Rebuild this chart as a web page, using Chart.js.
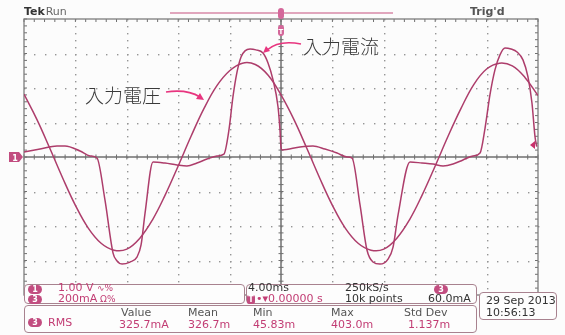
<!DOCTYPE html>
<html>
<head>
<meta charset="utf-8">
<script src="https://cdn.jsdelivr.net/npm/chart.js@4/dist/chart.umd.min.js"></script>
<style>
  html, body { margin: 0; padding: 0; background: #fcfcfc; }
  #scope { position: relative; width: 565px; height: 335px; overflow: hidden; background: #fcfcfc;
           font-family: "DejaVu Sans", sans-serif; }
  #scope canvas, #scope svg { position: absolute; left: 0; top: 0; }
  .t { position: absolute; white-space: nowrap; font-size: 11px; line-height: 12px; }
  .pink { color: #c23d74; }
  .gray { color: #555; }
  .dark { color: #333; }
  .panel { position: absolute; border: 1.5px solid #a8828f; border-radius: 4px; background: #fdfdfd; box-sizing: border-box; }
  .badge { position: absolute; width: 14px; height: 9px; border-radius: 5px; background: #c24d80;
           color: #fff; font-size: 8px; line-height: 9px; text-align: center; font-weight: bold; }
  .note { position: absolute; white-space: nowrap; font-family: "Noto Sans CJK JP", sans-serif;
          font-size: 19px; line-height: 22px; color: #3a3a3a; font-weight: 300; }
</style>
</head>
<body>
<div id="scope">
  <canvas id="c" width="565" height="335"></canvas>
  <svg id="ov" width="565" height="335" viewBox="0 0 565 335">
    <!-- trigger position bar -->
    <line x1="170" y1="13" x2="393" y2="13" stroke="#d98aa8" stroke-width="1.6"/>
    <rect x="278" y="8" width="6" height="11" rx="3" fill="#d4679a"/>
    <rect x="278" y="25" width="6" height="11" rx="3" fill="#d4679a"/>
    <text x="281" y="34" font-family="DejaVu Sans" font-size="7" font-weight="bold" fill="#fff" text-anchor="middle">T</text>
    <!-- ch1 ground marker -->
    <path d="M9,152 H19 L23,157 L19,162 H9 Z" fill="#c24d80"/>
    <text x="15" y="160.5" font-family="DejaVu Sans" font-size="8" font-weight="bold" fill="#fff" text-anchor="middle">1</text>
    <!-- trigger level marker -->
    <path d="M530,145 L535,141 L535,149 Z" fill="#c8306a"/>
    <!-- annotation arrows -->
    <path d="M301,44 C286,41 274,44 267,50" fill="none" stroke="#e8357f" stroke-width="1.6"/>
    <path d="M263,53 L266,46 L270,51 Z" fill="#e8357f"/>
    <path d="M166,92 C180,90 192,92 200,97" fill="none" stroke="#e8357f" stroke-width="1.6"/>
    <path d="M204,100 L196,99 L200,93 Z" fill="#e8357f"/>
    <!-- falling edge trigger glyph -->
    <polyline points="457,286 462,286 465,292" fill="none" stroke="#333" stroke-width="1.4"/>
  </svg>

  <div class="t" style="left:24px;top:6px;font-weight:bold;color:#333;">Tek <span style="font-weight:normal;color:#666;margin-left:-3px">Run</span></div>
  <div class="t" style="left:470px;top:6px;font-weight:bold;color:#555;">Trig'd</div>

  <div class="note" style="left:303px;top:35px;">入力電流</div>
  <div class="note" style="left:85px;top:84px;">入力電圧</div>

  <div class="panel" style="left:24px;top:284px;width:221px;height:20px;"></div>
  <div class="panel" style="left:246px;top:284px;width:231px;height:20px;"></div>
  <div class="panel" style="left:24px;top:305px;width:453px;height:28px;"></div>
  <div class="panel" style="left:479px;top:292px;width:78px;height:28px;"></div>

  <div class="badge" style="left:28px;top:285px;">1</div>
  <div class="t pink" style="left:58px;top:282px;">1.00 V</div>
  <div class="t pink" style="left:97px;top:282px;font-size:9px;">∿%</div>
  <div class="badge" style="left:28px;top:295px;">3</div>
  <div class="t pink" style="left:58px;top:293px;">200mA</div>
  <div class="t pink" style="left:100px;top:293px;font-size:9px;">Ω%</div>

  <div class="t dark" style="left:248px;top:282px;">4.00ms</div>
  <div class="t dark" style="left:345px;top:282px;">250kS/s</div>
  <div class="badge" style="left:434px;top:285px;">3</div>
  <div class="badge" style="left:247px;top:295px;width:8px;border-radius:2px;">T</div>
  <div class="t pink" style="left:256px;top:293px;">•▾0.00000 s</div>
  <div class="t dark" style="left:345px;top:293px;">10k points</div>
  <div class="t dark" style="left:428px;top:293px;">60.0mA</div>

  <div class="t dark" style="left:486px;top:295px;">29 Sep&nbsp;2013</div>
  <div class="t dark" style="left:486px;top:307px;">10:56:13</div>

  <div class="badge" style="left:28px;top:318px;">3</div>
  <div class="t pink" style="left:48px;top:317px;">RMS</div>
  <div class="t gray" style="left:121px;top:307px;">Value</div>
  <div class="t pink" style="left:119px;top:319px;">325.7mA</div>
  <div class="t gray" style="left:188px;top:307px;">Mean</div>
  <div class="t pink" style="left:188px;top:319px;">326.7m</div>
  <div class="t gray" style="left:253px;top:307px;">Min</div>
  <div class="t pink" style="left:253px;top:319px;">45.83m</div>
  <div class="t gray" style="left:331px;top:307px;">Max</div>
  <div class="t pink" style="left:331px;top:319px;">403.0m</div>
  <div class="t gray" style="left:404px;top:307px;">Std Dev</div>
  <div class="t pink" style="left:408px;top:319px;">1.137m</div>
</div>

<script>
// Channel 1: input voltage (V), sampled every 1 ms across the 40 ms record
const voltageTimeMs = [-20,-19,-18,-17,-16,-15,-14,-13,-12,-11,-10,-9,-8,-7,-6,-5,-4,-3,-2,-1,0,
                       1,2,3,4,5,6,7,8,9,10,11,12,13,14,15,16,17,18,19,20];
const voltageV = [1.82,1.09,0.26,-0.60,-1.40,-2.06,-2.50,-2.70,-2.67,-2.36,-1.82,-1.09,-0.26,0.60,1.40,2.06,2.50,2.72,2.68,2.37,1.80,
                  1.09,0.26,-0.60,-1.40,-2.06,-2.50,-2.70,-2.67,-2.36,-1.82,-1.09,-0.26,0.60,1.40,2.10,2.55,2.72,2.64,2.30,1.78];

// Channel 3: input current (mA)
const currentTimeMs = [-20.0,-18.75,-17.43,-16.81,-15.64,-14.86,-14.32,-13.70,-13.07,-12.76,-12.37,-11.75,-11.21,-10.89,-10.58,-9.96,
  -9.03,-8.09,-7.32,-6.54,-5.76,-4.98,-4.44,-4.05,-3.74,-3.42,-3.11,-2.80,-2.41,-1.95,-1.40,-1.01,-0.62,-0.23,-0.08,0.0,0.08,
  1.48,2.49,3.42,4.36,5.14,5.53,6.15,6.69,7.16,7.70,8.33,8.72,9.11,10.04,10.97,11.83,12.61,13.39,14.16,14.94,15.49,15.88,16.26,
  16.65,17.04,17.43,17.90,18.37,18.83,19.22,19.53,19.77,19.90];
const currentMa = [29,46,64,64,35,6,-6,-249,-557,-603,-621,-609,-580,-510,-325,-29,
  -35,-46,-52,-35,-12,6,17,157,348,493,580,615,626,621,603,545,447,290,157,58,41,
  58,64,46,23,0,-6,-278,-539,-609,-621,-592,-522,-336,-29,-35,-41,-52,-41,-17,6,23,168,360,
  505,592,632,626,609,563,464,313,116,60];

// Graticule layout: 10 x 8 divisions, 4 ms/div, 1 V/div (ch1), 200 mA/div (ch3)
const timeDivMs = 4, voltDiv = 1, currentDivMa = 200;
const traceColor = '#ad3d6b';

const graticule = {
  id: 'graticule',
  beforeDatasetsDraw(chart) {
    const {ctx, chartArea: a} = chart;
    const x = chart.scales.x, y = chart.scales.yV;
    ctx.save();
    // dotted division lines
    ctx.fillStyle = '#959595';
    for (let d = -5; d <= 5; d++) {
      if (d === 0 || Math.abs(d) === 5) continue;
      const px = Math.round(x.getPixelForValue(d * timeDivMs));
      for (let m = -20; m <= 20; m++) {
        const py = Math.round(y.getPixelForValue(m * voltDiv / 5));
        ctx.fillRect(px, py, 1.4, 1.4);
      }
    }
    for (let d = -4; d <= 4; d++) {
      if (d === 0 || Math.abs(d) === 4) continue;
      const py = Math.round(y.getPixelForValue(d * voltDiv));
      for (let m = -25; m <= 25; m++) {
        const px = Math.round(x.getPixelForValue(m * timeDivMs / 5));
        ctx.fillRect(px, py, 1.4, 1.4);
      }
    }
    // center axes with minor ticks
    const cx = x.getPixelForValue(0), cy = y.getPixelForValue(0);
    ctx.strokeStyle = '#6f6f6f';
    ctx.lineWidth = 1.5;
    ctx.beginPath();
    ctx.moveTo(a.left, cy); ctx.lineTo(a.right, cy);
    ctx.moveTo(cx, a.top); ctx.lineTo(cx, a.bottom);
    ctx.stroke();
    ctx.lineWidth = 1;
    ctx.beginPath();
    for (let m = -25; m <= 25; m++) {
      const px = x.getPixelForValue(m * timeDivMs / 5);
      ctx.moveTo(px, cy - 2.5); ctx.lineTo(px, cy + 2.5);
      ctx.moveTo(px, a.top); ctx.lineTo(px, a.top + 3);
    }
    for (let m = -20; m <= 20; m++) {
      const py = y.getPixelForValue(m * voltDiv / 5);
      ctx.moveTo(cx - 2.5, py); ctx.lineTo(cx + 2.5, py);
      ctx.moveTo(a.left, py); ctx.lineTo(a.left + 3, py);
      ctx.moveTo(a.right, py); ctx.lineTo(a.right - 3, py);
    }
    ctx.stroke();
    // outer border
    ctx.strokeStyle = '#7d7d7d';
    ctx.lineWidth = 1.3;
    ctx.strokeRect(a.left, a.top, a.right - a.left, a.bottom - a.top);
    ctx.restore();
  }
};

new Chart(document.getElementById('c'), {
  type: 'line',
  data: {
    datasets: [
      {
        label: '入力電圧',
        data: voltageTimeMs.map((t, i) => ({x: t, y: voltageV[i]})),
        yAxisID: 'yV',
        borderColor: traceColor,
        borderWidth: 1.5,
        pointRadius: 0,
        tension: 0.4
      },
      {
        label: '入力電流',
        data: currentTimeMs.map((t, i) => ({x: t, y: currentMa[i]})),
        yAxisID: 'yI',
        borderColor: traceColor,
        borderWidth: 1.5,
        pointRadius: 0,
        cubicInterpolationMode: 'monotone'
      }
    ]
  },
  options: {
    responsive: false,
    animation: false,
    devicePixelRatio: 1,
    layout: {padding: {left: 24, right: 27, top: 19, bottom: 40}},
    scales: {
      x: {type: 'linear', min: -5 * timeDivMs, max: 5 * timeDivMs, display: false},
      yV: {type: 'linear', min: -4 * voltDiv, max: 4 * voltDiv, display: false},
      yI: {type: 'linear', min: -4 * currentDivMa, max: 4 * currentDivMa, display: false}
    },
    plugins: {legend: {display: false}, tooltip: {enabled: false}}
  },
  plugins: [graticule]
});
</script>
</body>
</html>
